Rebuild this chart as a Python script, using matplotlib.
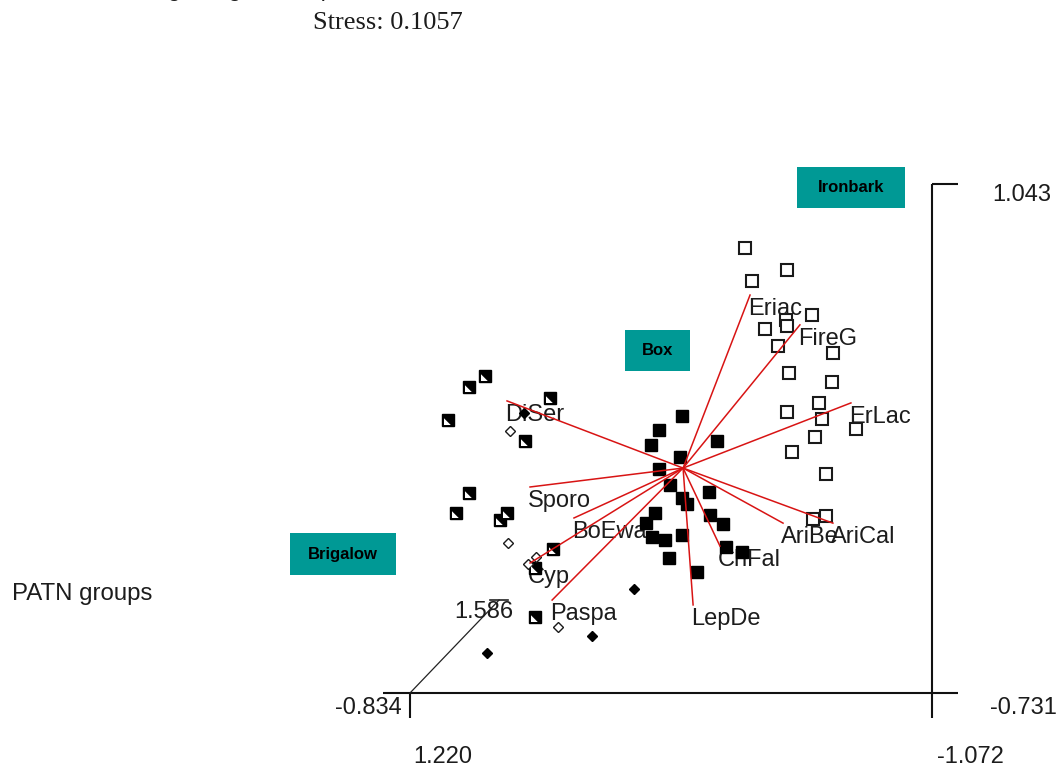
"""
PATN ordination (3D box projected) with species vectors
"""
import matplotlib.pyplot as plt
from matplotlib.patches import Rectangle
from matplotlib.path import Path

plt.rcParams['font.family'] = ['Liberation Sans', 'DejaVu Sans']

W, H = 1058, 769

# ordination box ranges (axis labels)
X_LEFT, X_RIGHT = 1.220, -1.072
Y_BOTTOM, Y_TOP = -0.731, 1.043
Z_FRONT, Z_BACK = -0.834, 1.586
STRESS = 0.1057

# group 1 - Ironbark (open squares)
iron_x = [-0.251, -0.282, -0.435, -0.545, -0.431, -0.435, -0.339, -0.396, -0.637, -0.444,
          -0.633, -0.576, -0.435, -0.589, -0.738, -0.558, -0.457, -0.607, -0.549, -0.607]
iron_y = [0.820, 0.705, 0.743, 0.586, 0.569, 0.548, 0.538, 0.478, 0.454, 0.384,
          0.353, 0.280, 0.248, 0.224, 0.189, 0.161, 0.109, 0.032, -0.125, -0.114]

# group 2 - Box (filled squares)
box_x = [0.026, 0.127, 0.162, -0.128, 0.034, 0.127, 0.078, 0.026, 0.004, -0.093, -0.097,
         -0.154, 0.144, 0.184, 0.157, 0.100, 0.026, 0.083, -0.040, -0.167, -0.238]
box_y = [0.234, 0.186, 0.133, 0.147, 0.092, 0.050, -0.006, -0.051, -0.072, -0.030, -0.111,
         -0.142, -0.104, -0.139, -0.187, -0.198, -0.180, -0.260, -0.309, -0.222, -0.240]

# group 3 - Brigalow (half filled squares)
brig_x = [0.891, 0.961, 0.605, 1.053, 0.715, 0.961, 1.018, 0.794, 0.825, 0.592, 0.671, 0.671]
brig_y = [0.374, 0.335, 0.297, 0.220, 0.147, -0.034, -0.104, -0.104, -0.128, -0.229, -0.295, -0.466]

# group 4 (open diamonds)
g4_x = [0.781, 0.790, 0.667, 0.702, 0.570]
g4_y = [0.182, -0.208, -0.257, -0.281, -0.501]

# group 5 (filled diamonds)
g5_x = [0.719, 0.236, 0.421, 0.882]
g5_y = [0.245, -0.369, -0.532, -0.592]

# species vectors
species = ['DiSer', 'Sporo', 'BoEwa', 'Cyp', 'Paspa', 'LepDe',
           'ChFal', 'AriBe', 'AriCal', 'ErLac', 'FireG', 'Eriac']
vec_x = [0.794, 0.693, 0.500, 0.693, 0.596, -0.023, -0.141, -0.418, -0.637, -0.716, -0.492, -0.273]
vec_y = [0.287, -0.013, -0.121, -0.278, -0.407, -0.424, -0.219, -0.139, -0.139, 0.280, 0.552, 0.656]
vec_origin = (0.021, 0.053)

# projected far end of the depth axis
depth_end = (0.829, -0.407)

group_boxes = [('Ironbark', 797, 167, 108, 41),
               ('Box', 625, 330, 65, 41),
               ('Brigalow', 290, 533, 106, 42)]

TEAL = '#009995'
TXT = '#1c1c1c'

fig = plt.figure(figsize=(W / 100, H / 100), dpi=100)
ax = fig.add_axes([0, 0, 1, 1])

# page anchors of the box corners (px)
x0px, x1px = 410, 932
y0px, y1px = 693, 184
sx = (X_RIGHT - X_LEFT) / (x1px - x0px)
sy = (Y_TOP - Y_BOTTOM) / (y0px - y1px)
ax.set_xlim(X_LEFT - x0px * sx, X_LEFT + (W - x0px) * sx)
ax.set_ylim(Y_BOTTOM - (H - y0px) * sy, Y_TOP + y1px * sy)
ax.axis('off')

# box frame
k = dict(color='#111111', lw=1.5, solid_capstyle='butt', zorder=1)
ax.plot([X_LEFT - 27 * sx, X_RIGHT + 26 * sx], [Y_BOTTOM, Y_BOTTOM], **k)
ax.plot([X_RIGHT, X_RIGHT], [Y_TOP, Y_BOTTOM - 25 * sy], **k)
ax.plot([X_RIGHT, X_RIGHT + 26 * sx], [Y_TOP, Y_TOP], **k)
ax.plot([X_LEFT, X_LEFT], [Y_BOTTOM, Y_BOTTOM - 25 * sy], **k)
ax.plot([X_LEFT, depth_end[0]], [Y_BOTTOM, depth_end[1]], color='#222222', lw=0.9, zorder=1)
ax.plot([depth_end[0] + 9 * sx, depth_end[0] - 9 * sx], [depth_end[1]] * 2,
        color='#222222', lw=1.2, zorder=1)

lab = dict(textcoords='offset pixels', fontsize=17, color=TXT, va='center')
ax.annotate(f'{Y_TOP:.3f}', (X_RIGHT, Y_TOP), xytext=(60, -11), ha='left', **lab)
ax.annotate(f'{Y_BOTTOM:.3f}', (X_RIGHT, Y_BOTTOM), xytext=(58, -15), ha='left', **lab)
ax.annotate(f'{Z_FRONT:.3f}', (X_LEFT, Y_BOTTOM), xytext=(-8, -15), ha='right', **lab)
ax.annotate(f'{X_LEFT:.3f}', (X_LEFT, Y_BOTTOM), xytext=(33, -64), ha='center', **lab)
ax.annotate(f'{X_RIGHT:.3f}', (X_RIGHT, Y_BOTTOM), xytext=(38, -64), ha='center', **lab)
ax.annotate(f'{Z_BACK:.3f}', depth_end, xytext=(-15, -12), ha='center', **lab)

# species labels under the points
for name, vx, vy in zip(species, vec_x, vec_y):
    ax.annotate(name, (vx, vy), xytext=(-2, -14), ha='left', zorder=2, **lab)

# points
ax.plot(iron_x, iron_y, 's', ms=8, mfc='white', mec='#1a1a1a', mew=1.5, ls='none', zorder=3)
ax.plot(box_x, box_y, 's', ms=8.5, mfc='black', mec='black', mew=1, ls='none', zorder=3)
ax.plot(brig_x, brig_y, 's', ms=8.5, mfc='black', mec='black', mew=1, ls='none', zorder=3)
tri = Path([(-1, -1), (0.5, -1), (-1, 0.5), (-1, -1)])
ax.plot(brig_x, brig_y, marker=tri, ms=6.5, mfc='white', mec='none', ls='none', zorder=3.1)
ax.plot(g4_x, g4_y, 'D', ms=5, mfc='white', mec='#1a1a1a', mew=1, ls='none', zorder=3)
ax.plot(g5_x, g5_y, 'D', ms=5.5, mfc='black', mec='black', ls='none', zorder=3)

# vectors on top
for vx, vy in zip(vec_x, vec_y):
    ax.plot([vec_origin[0], vx], [vec_origin[1], vy], color='#d81414', lw=1.1, zorder=4)

# group name boxes
for name, bx, by, bw, bh in group_boxes:
    fig.add_artist(Rectangle((bx / W, 1 - (by + bh) / H), bw / W, bh / H,
                             transform=fig.transFigure, color=TEAL, lw=0))
    fig.text((bx + bw / 2) / W, 1 - (by + bh / 2) / H, name, ha='center', va='center',
             fontsize=12, fontweight='bold', color='black')

fig.text(12 / W, 1 - 594 / H, 'PATN groups', fontsize=17.3, color=TXT, va='center')
fig.text(313 / W, 1 - 29 / H, f'Stress: {STRESS:.4f}', fontsize=19,
         family='Liberation Serif', color=TXT, va='baseline')
# title line cut by the top edge, only its descenders show
fig.text(20 / W, 1 + 4 / H, 'Ordination diagram gradient plot', fontsize=17,
         color=TXT, va='baseline')

fig.savefig('out.png', dpi=100)
